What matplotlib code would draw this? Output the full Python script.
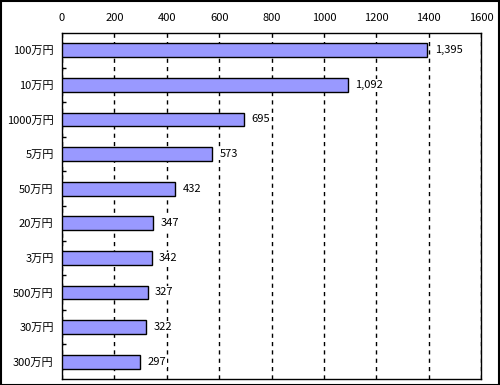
import matplotlib.pyplot as plt
import matplotlib.patches as patches
from matplotlib.ticker import FixedLocator

plt.rcParams['font.family'] = ['Noto Sans CJK JP', 'DejaVu Sans']

categories = ['100万円', '10万円', '1000万円', '5万円', '50万円',
              '20万円', '3万円', '500万円', '30万円', '300万円']
values = [1395, 1092, 695, 573, 432, 347, 342, 327, 322, 297]

fig = plt.figure(figsize=(5, 3.85), dpi=100)
ax = fig.add_axes([0.124, 0.0156, 0.838, 0.8987])

y = range(len(categories))
ax.barh(y, values, height=0.4, color='#9999FF', edgecolor='black', linewidth=1, zorder=3)

# value labels sit on a white box that hides the grid
for i, v in enumerate(values):
    ax.text(v + 28, i, f'{v:,}', va='center', ha='left', fontsize=8, zorder=4,
            bbox=dict(facecolor='white', edgecolor='none', pad=1))

ax.set_xlim(0, 1600)
ax.set_ylim(len(categories) - 0.5, -0.5)
ax.set_xticks(range(0, 1601, 200))
ax.xaxis.tick_top()
ax.tick_params(axis='x', length=0, labelsize=8, pad=7)
ax.set_yticks(list(y))
ax.set_yticklabels(categories)
ax.tick_params(axis='y', which='major', length=0, labelsize=8, pad=6)
ax.yaxis.set_minor_locator(FixedLocator([i + 0.5 for i in range(len(categories) - 1)]))
ax.tick_params(axis='y', which='minor', direction='in', length=3, width=1)

ax.xaxis.grid(True, linestyle=(0, (3, 3)), color='black', linewidth=1, zorder=0)
for s in ax.spines.values():
    s.set_linewidth(1)

# border around the whole picture
fig.patches.append(patches.Rectangle((0.001, 0.001), 0.997, 0.997, transform=fig.transFigure,
                                     fill=False, edgecolor='black', linewidth=1.5))

fig.savefig('out.png', dpi=100)
